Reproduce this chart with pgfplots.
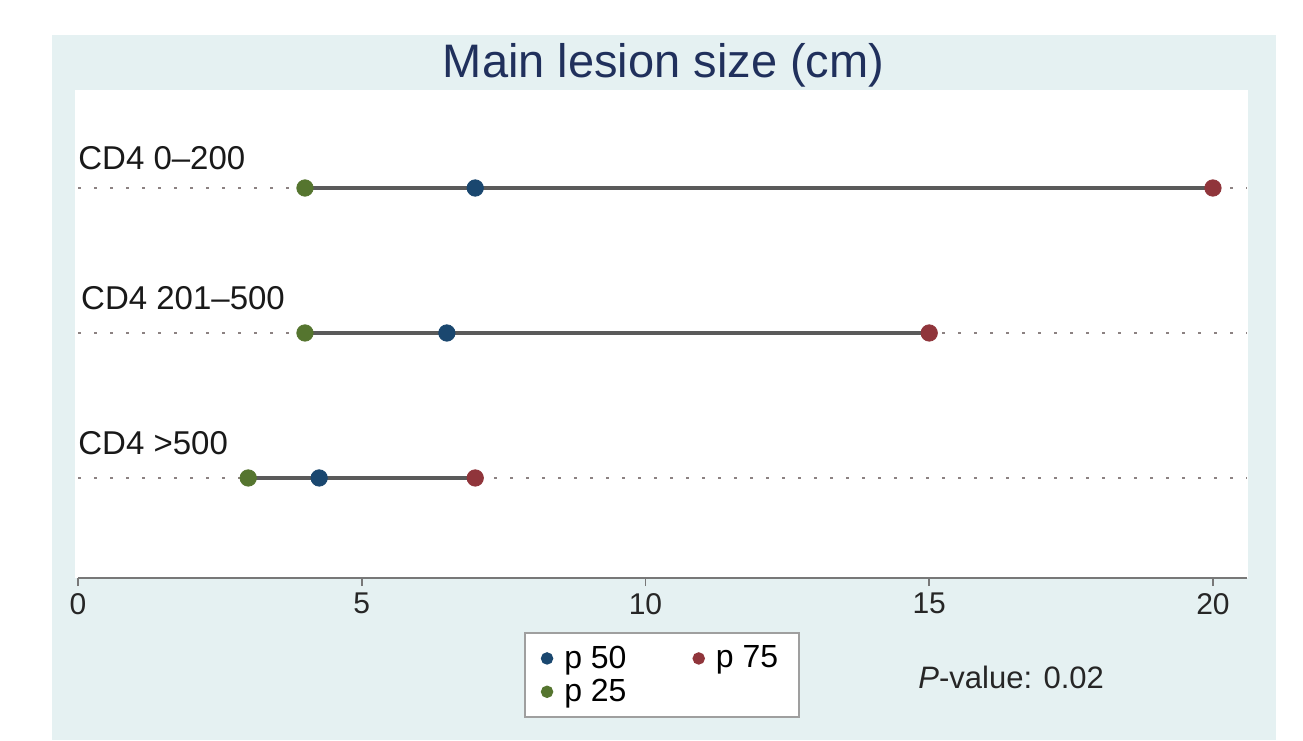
\documentclass[border=0pt]{standalone}
\usepackage{pgfplots}
\pgfplotsset{compat=1.18}
\usepackage{fontspec}
\setmainfont{Liberation Sans}

\definecolor{stbg}{RGB}{229,241,242}
\definecolor{titlecol}{RGB}{32,48,92}
\definecolor{pfifty}{RGB}{26,71,111}
\definecolor{pseventyfive}{RGB}{144,53,59}
\definecolor{ptwentyfive}{RGB}{85,117,47}
\definecolor{rangecol}{RGB}{90,90,90}
\definecolor{axcol}{RGB}{120,120,120}
\definecolor{gridcol}{RGB}{140,130,130}

\begin{document}
\begin{tikzpicture}
% page and Stata-style background
\fill[white] (0,0) rectangle (651.5pt,370pt);
\fill[stbg] (26pt,0) rectangle (638pt,352.5pt);
\fill[white] (37.5pt,81pt) rectangle (624pt,325pt);

\begin{axis}[
  at={(39pt,81pt)}, anchor=south west,
  scale only axis, width=584.5pt, height=244pt,
  xmin=0, xmax=20.6, ymin=0.31, ymax=3.676,
  clip=false,
  axis x line*=bottom, axis y line*=left,
  y axis line style={draw=none},
  x axis line style={axcol, line width=1.4pt},
  xtick={0,5,10,15,20}, xtick pos=bottom,
  tick align=outside, major tick length=4pt,
  xtick style={axcol, line width=0.9pt},
  ytick={1,2,3}, yticklabels={}, ytick style={draw=none},
  ymajorgrids,
  major grid style={gridcol, line width=1.2pt, dash pattern=on 1.4pt off 6.6pt},
  /pgf/number format/assume math mode=true,
  xticklabel style={font=\fontsize{15}{16}\selectfont, text=black!85},
  title={Main lesion size (cm)},
  title style={at={(0.501,1.057)}, anchor=center, yshift=-7.5pt, text=titlecol,
    font=\fontsize{23.5}{26}\selectfont},
  legend columns=2,
  legend cell align=left,
  legend style={at={(0.4996,-0.199)}, anchor=center,
    draw=gray!75, line width=1pt, fill=white,
    font=\fontsize{16}{18}\selectfont,
    inner xsep=8.5pt, inner ysep=4.5pt,
    /tikz/every odd column/.append style={column sep=4pt},
    /tikz/every even column/.append style={column sep=31.5pt}},
  legend image code/.code={\draw[#1, mark size=2.6pt] plot coordinates {(0.15em,0cm)};},
]

% p25 -- p75 range lines
\addplot[rangecol, line width=1.6pt, forget plot] coordinates {(4,3) (20,3)};
\addplot[rangecol, line width=1.6pt, forget plot] coordinates {(4,2) (15,2)};
\addplot[rangecol, line width=1.6pt, forget plot] coordinates {(3,1) (7,1)};

\addplot[only marks, mark=*, mark size=4.1pt, color=pfifty]
  coordinates {(7,3) (6.5,2) (4.25,1)};
\addlegendentry{p 50}
\addplot[only marks, mark=*, mark size=4.1pt, color=pseventyfive]
  coordinates {(20,3) (15,2) (7,1)};
\addlegendentry{p 75}
\addplot[only marks, mark=*, mark size=4.1pt, color=ptwentyfive]
  coordinates {(4,3) (4,2) (3,1)};
\addlegendentry{p 25}

% row labels
\node[anchor=west, inner sep=0pt, font=\fontsize{16.5}{18}\selectfont, text=black!90]
  at (axis cs:0,3.207) {CD4 0--200};
\node[anchor=west, inner sep=0pt, font=\fontsize{16.5}{18}\selectfont, text=black!90]
  at (axis cs:0.05,2.241) {CD4 201--500};
\node[anchor=west, inner sep=0pt, font=\fontsize{16.5}{18}\selectfont, text=black!90]
  at (axis cs:0,1.241) {CD4 >500};

\node[anchor=west, inner sep=0pt, font=\fontsize{15.5}{18}\selectfont, text=black!85]
  at (rel axis cs:0.7186,-0.203) {\textit{P}-value: 0.02};
\end{axis}
\end{tikzpicture}
\end{document}
